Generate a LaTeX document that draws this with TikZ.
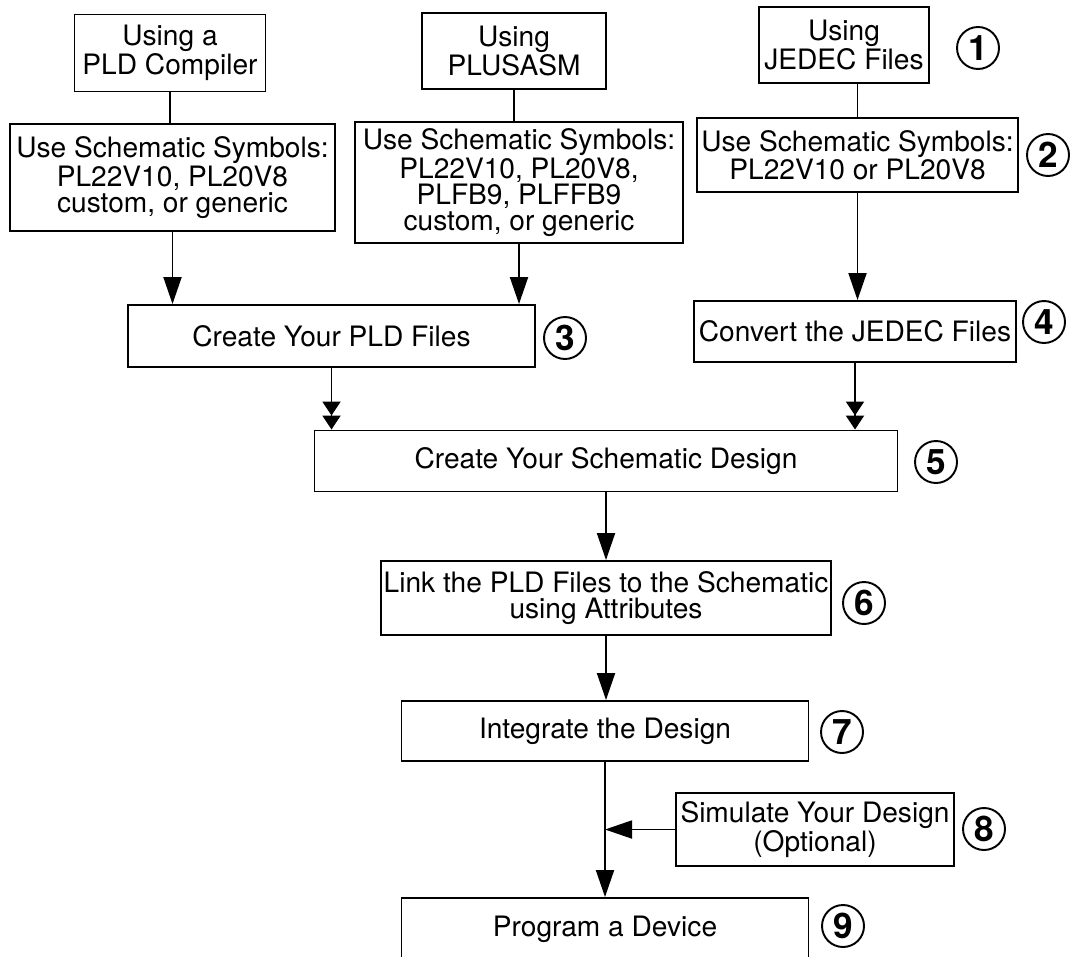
\documentclass[tikz,border=0pt]{standalone}
\usepackage{fontspec}
\setmainfont{TeX Gyre Heros}
\usetikzlibrary{arrows.meta}
\tikzset{
	stepbox/.style={draw, line width=1.1pt, inner sep=0pt, align=center, font=\fontsize{16}{15.3}\selectfont},
	symbox/.style={stepbox, font=\fontsize{16}{13}\selectfont},
	boxsize/.style 2 args={minimum width=#1*0.02cm, minimum height=#2*0.02cm},
	stepnum/.style={circle, draw, line width=1.1pt, minimum size=0.84cm, inner sep=0pt, font=\bfseries\fontsize{20}{20}\selectfont},
	link/.style={line width=1.1pt},
	flow/.style={link, -{Triangle[length=0.54cm, width=0.36cm]}},
	flowtwo/.style={link, -{Triangle[length=0.28cm, width=0.36cm] Triangle[length=0.28cm, width=0.36cm]}}
}
\begin{document}
\begin{tikzpicture}[x=0.02cm, y=-0.02cm]

	\useasboundingbox (0,0) rectangle (1070,956);

	% three ways in
	\node[stepbox, boxsize={191}{77}] (usepld) at (170,53) {Using a\\PLD Compiler};
	\node[stepbox, boxsize={184}{76}] (useasm) at (514,51) {Using\\PLUSASM};
	\node[stepbox, boxsize={170}{76}] (usejed) at (844,45) {Using\\JEDEC Files};

	\node[symbox, boxsize={325}{107}] (sympld) at (172.5,177.5) {Use Schematic Symbols:\\PL22V10, PL20V8\\custom, or generic};
	\node[symbox, boxsize={328}{121}] (symasm) at (519,182.5) {Use Schematic Symbols:\\PL22V10, PL20V8,\\PLFB9, PLFFB9\\custom, or generic};
	\node[symbox, boxsize={321}{74}] (symjed) at (857.5,155) {Use Schematic Symbols:\\PL22V10 or PL20V8};

	\node[stepbox, boxsize={407}{62}] (mkpld) at (331.5,336) {Create Your PLD Files};
	\node[stepbox, boxsize={322}{61}] (conv) at (855,331.5) {Convert the JEDEC Files};

	% main column
	\node[stepbox, boxsize={583}{61}] (schem) at (606,461) {Create Your Schematic Design};
	\node[stepbox, boxsize={450}{74}] (attr) at (606,598) {Link the PLD Files to the Schematic\\using Attributes};
	\node[stepbox, boxsize={407}{60}] (integ) at (605,731) {Integrate the Design};
	\node[stepbox, boxsize={278}{73}] (sim) at (815,829.5) {Simulate Your Design\\(Optional)};
	\node[stepbox, boxsize={407}{62}] (prog) at (605,929) {Program a Device};

	% step numbers
	\node[stepnum] (n1) at (978,48) {1};
	\node[stepnum] (n2) at (1048,155) {2};
	\node[stepnum] (n3) at (565,338) {3};
	\node[stepnum] (n4) at (1044,322) {4};
	\node[stepnum] (n5) at (936,462) {5};
	\node[stepnum] (n6) at (864,603) {6};
	\node[stepnum] (n7) at (842,732) {7};
	\node[stepnum] (n8) at (984,829) {8};
	\node[stepnum] (n9) at (843,926) {9};

	% connectors
	\draw[link] (usepld.south) -- (usepld.south |- sympld.north);
	\draw[link] (useasm.south) -- (useasm.south |- symasm.north);
	\draw[link] (symjed.north |- usejed.south) -- (symjed.north);

	\draw[flow] (sympld.south) -- (sympld.south |- mkpld.north);
	\draw[flow] (symasm.south) -- (symasm.south |- mkpld.north);
	\draw[flow] (symjed.south) -- (symjed.south |- conv.north);

	\draw[flowtwo] (mkpld.south) -- (mkpld.south |- schem.north);
	\draw[flowtwo] (conv.south) -- (conv.south |- schem.north);

	\draw[flow] (schem.south) -- (schem.south |- attr.north);
	\draw[flow] (attr.south) -- (attr.south |- integ.north);
	\draw[flow] (integ.south) -- (integ.south |- prog.north);
	\draw[flow] (sim.west) -- (sim.west -| integ.south);

\end{tikzpicture}
\end{document}
